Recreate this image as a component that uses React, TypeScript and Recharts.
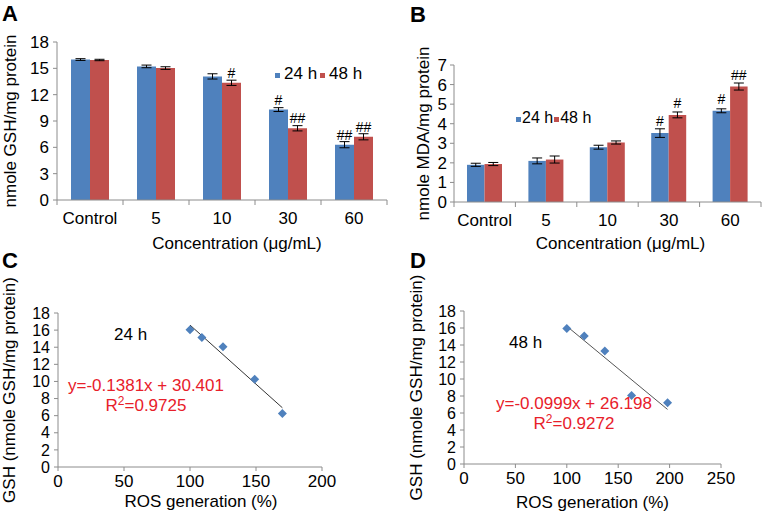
import React from "react";
import {
  Bar,
  BarChart,
  ErrorBar,
  LabelList,
  Legend,
  Scatter,
  ScatterChart,
  XAxis,
  YAxis,
} from "recharts";

const FONT = "Arial, 'Liberation Sans', Helvetica, sans-serif";
const BLUE = "#4F81BD";
const RED = "#C0504D";
const AXIS = "#8c8c8c";
const EQ_RED = "#e8202a";

// A: GSH content
const concentrations = ["Control", "5", "10", "30", "60"];
const gsh24 = [16.0, 15.22, 14.08, 10.3, 6.3];
const gsh48 = [15.95, 15.03, 13.35, 8.17, 7.2];
const gsh24Err = [0.1, 0.15, 0.3, 0.22, 0.35];
const gsh48Err = [0.08, 0.15, 0.3, 0.3, 0.35];
const gsh24Sig = ["", "", "", "#", "##"];
const gsh48Sig = ["", "", "#", "##", "##"];
const gshTicks = [0, 3, 6, 9, 12, 15, 18];

// B: MDA content
const mda24 = [1.9, 2.1, 2.8, 3.52, 4.66];
const mda48 = [1.94, 2.17, 3.04, 4.45, 5.9];
const mda24Err = [0.08, 0.15, 0.1, 0.22, 0.1];
const mda48Err = [0.08, 0.18, 0.08, 0.15, 0.18];
const mda24Sig = ["", "", "", "#", "#"];
const mda48Sig = ["", "", "", "#", "##"];
const mdaTicks = [0, 1, 2, 3, 4, 5, 6, 7];

const seriesNames = ["24 h", "48 h"];

// C / D: GSH vs ROS
const ros24 = [100, 109, 125, 149, 170];
const gshVs24 = [16.05, 15.15, 14.05, 10.25, 6.25];
const trend24X = [100, 170];
const trend24Y = [16.59, 6.92];
const ros48 = [100, 117, 137, 163, 198];
const gshVs48 = [15.95, 15.05, 13.3, 8.05, 7.2];
const trend48X = [100, 198];
const trend48Y = [16.21, 6.42];
const scatterYTicks = [0, 2, 4, 6, 8, 10, 12, 14, 16, 18];
const rosTicksC = [0, 50, 100, 150, 200];
const rosTicksD = [0, 50, 100, 150, 200, 250];

const gshRows = concentrations.map((name, i) => ({
  name,
  v24: gsh24[i],
  v48: gsh48[i],
  e24: gsh24Err[i],
  e48: gsh48Err[i],
  s24: gsh24Sig[i],
  s48: gsh48Sig[i],
}));

const mdaRows = concentrations.map((name, i) => ({
  name,
  v24: mda24[i],
  v48: mda48[i],
  e24: mda24Err[i],
  e48: mda48Err[i],
  s24: mda24Sig[i],
  s48: mda48Sig[i],
}));

const pts24 = ros24.map((x, i) => ({ x, y: gshVs24[i] }));
const pts48 = ros48.map((x, i) => ({ x, y: gshVs48[i] }));
const line24 = trend24X.map((x, i) => ({ x, y: trend24Y[i] }));
const line48 = trend48X.map((x, i) => ({ x, y: trend48Y[i] }));

const tickText = { fontSize: 17, fill: "#000", fontFamily: FONT };
const smallTick = { fontSize: 16, fill: "#000", fontFamily: FONT };

// category ticks with marks between categories (Excel style)
function makeCatTick(step: number, gap: number) {
  return function CatTick(props: any) {
    const { x, y, payload, index } = props;
    const axisY = y - gap;
    const last = index === concentrations.length - 1;
    return (
      <g>
        <line x1={x - step / 2} x2={x - step / 2} y1={axisY} y2={axisY + 5} stroke={AXIS} />
        {last && (
          <line x1={x + step / 2} x2={x + step / 2} y1={axisY} y2={axisY + 5} stroke={AXIS} />
        )}
        <text x={x} y={y} dy="0.71em" textAnchor="middle" {...tickText}>
          {payload.value}
        </text>
      </g>
    );
  };
}

function Diamond(props: any) {
  const { cx, cy } = props;
  const r = 4.5;
  return (
    <path
      d={`M${cx},${cy - r}L${cx + r},${cy}L${cx},${cy + r}L${cx - r},${cy}Z`}
      fill={BLUE}
    />
  );
}

function NoShape() {
  return <g />;
}

function SeriesLegend({ size, gap, between, drop }: { size: number; gap: number; between: number; drop: number }) {
  const colors = [BLUE, RED];
  return (
    <div style={{ display: "flex", fontFamily: FONT, fontSize: size, lineHeight: `${size}px`, color: "#000" }}>
      {seriesNames.map((n, i) => (
        <div key={n} style={{ display: "flex", alignItems: "flex-start", marginRight: between }}>
          <div style={{ width: 5, height: 5, background: colors[i], marginTop: drop, marginRight: gap }} />
          <span>{n}</span>
        </div>
      ))}
    </div>
  );
}

const letter = (t: string, left: number, top: number) => (
  <div
    style={{
      position: "absolute",
      left,
      top,
      fontFamily: FONT,
      fontWeight: "bold",
      fontSize: 22,
      lineHeight: "22px",
      color: "#000",
    }}
  >
    {t}
  </div>
);

const note = (content: React.ReactNode, left: number, top: number, color: string, width = 0) => (
  <div
    style={{
      position: "absolute",
      left,
      top,
      width: width || undefined,
      textAlign: width ? "center" : "left",
      fontFamily: FONT,
      fontSize: 17,
      lineHeight: "20px",
      color,
      whiteSpace: "nowrap",
    }}
  >
    {content}
  </div>
);

const sup = (t: string) => (
  <span style={{ fontSize: 12, position: "relative", top: -6 }}>{t}</span>
);

export default function App() {
  const aW = 390;
  const aLeft = 57;
  const aRight = 3;
  const bW = 381;
  const bLeft = 73;
  const bRight = 1;
  return (
    <div
      style={{
        position: "absolute",
        left: 0,
        top: 0,
        width: 762,
        height: 518,
        background: "#fff",
        overflow: "hidden",
        fontFamily: FONT,
      }}
    >
      {/* A */}
      <div style={{ position: "absolute", left: 0, top: 0 }}>
        <BarChart
          width={aW}
          height={260}
          data={gshRows}
          margin={{ top: 42, right: aRight, bottom: 0, left: 0 }}
          barGap={0}
        >
          <XAxis
            dataKey="name"
            interval={0}
            height={60}
            tickSize={5}
            tickMargin={7}
            tickLine={false}
            axisLine={{ stroke: AXIS }}
            tick={makeCatTick((aW - aLeft - aRight) / concentrations.length, 12)}
            label={{
              value: "Concentration (μg/mL)",
              position: "insideBottom",
              offset: 11,
              dx: 15,
              style: tickText,
            }}
          />
          <YAxis
            width={aLeft}
            domain={[0, 18]}
            ticks={gshTicks}
            interval={0}
            tickSize={4}
            tickMargin={4}
            axisLine={{ stroke: AXIS }}
            tickLine={{ stroke: AXIS }}
            tick={tickText}
            label={{
              value: "nmole GSH/mg protein",
              angle: -90,
              position: "insideLeft",
              offset: 10,
              style: { ...tickText, textAnchor: "middle" },
            }}
          />
          <Legend
            layout="horizontal"
            verticalAlign="middle"
            align="center"
            wrapperStyle={{ left: 275, top: 65, width: "auto" }}
            content={() => <SeriesLegend size={17} gap={4} between={3} drop={8} />}
          />
          <Bar dataKey="v24" name="24 h" fill={BLUE} barSize={19} isAnimationActive={false}>
            <ErrorBar dataKey="e24" width={5} stroke="#000" strokeWidth={1} />
            <LabelList dataKey="s24" position="top" offset={5} fontSize={14} fill="#000" fontFamily={FONT} />
          </Bar>
          <Bar dataKey="v48" name="48 h" fill={RED} barSize={19} isAnimationActive={false}>
            <ErrorBar dataKey="e48" width={5} stroke="#000" strokeWidth={1} />
            <LabelList dataKey="s48" position="top" offset={5} fontSize={14} fill="#000" fontFamily={FONT} />
          </Bar>
        </BarChart>
      </div>

      {/* B */}
      <div style={{ position: "absolute", left: 381, top: 0 }}>
        <BarChart
          width={bW}
          height={260}
          data={mdaRows}
          margin={{ top: 65, right: bRight, bottom: 0, left: 0 }}
          barGap={0}
        >
          <XAxis
            dataKey="name"
            interval={0}
            height={58}
            tickSize={5}
            tickMargin={7}
            tickLine={false}
            axisLine={{ stroke: AXIS }}
            tick={makeCatTick((bW - bLeft - bRight) / concentrations.length, 12)}
            label={{
              value: "Concentration (μg/mL)",
              position: "insideBottom",
              offset: 11,
              dx: 13,
              style: tickText,
            }}
          />
          <YAxis
            width={bLeft}
            domain={[0, 7]}
            ticks={mdaTicks}
            interval={0}
            tickSize={4}
            tickMargin={3}
            axisLine={{ stroke: AXIS }}
            tickLine={{ stroke: AXIS }}
            tick={tickText}
            label={{
              value: "nmole MDA/mg protein",
              angle: -90,
              position: "insideLeft",
              offset: 42,
              style: { ...tickText, textAnchor: "middle" },
            }}
          />
          <Legend
            layout="horizontal"
            verticalAlign="middle"
            align="center"
            wrapperStyle={{ left: 135, top: 110, width: "auto" }}
            content={() => <SeriesLegend size={16} gap={1} between={1} drop={7} />}
          />
          <Bar dataKey="v24" name="24 h" fill={BLUE} barSize={17.5} isAnimationActive={false}>
            <ErrorBar dataKey="e24" width={5} stroke="#000" strokeWidth={1} />
            <LabelList dataKey="s24" position="top" offset={7} fontSize={14} fill="#000" fontFamily={FONT} />
          </Bar>
          <Bar dataKey="v48" name="48 h" fill={RED} barSize={17.5} isAnimationActive={false}>
            <ErrorBar dataKey="e48" width={5} stroke="#000" strokeWidth={1} />
            <LabelList dataKey="s48" position="top" offset={7} fontSize={14} fill="#000" fontFamily={FONT} />
          </Bar>
        </BarChart>
      </div>

      {/* C */}
      <div style={{ position: "absolute", left: 0, top: 260 }}>
        <ScatterChart width={381} height={258} margin={{ top: 53, right: 59, bottom: 0, left: 0 }}>
          <XAxis
            type="number"
            dataKey="x"
            domain={[0, 200]}
            ticks={rosTicksC}
            interval={0}
            height={51}
            tickSize={4}
            tickMargin={4}
            axisLine={{ stroke: AXIS }}
            tickLine={{ stroke: AXIS }}
            tick={tickText}
            label={{
              value: "ROS generation (%)",
              position: "insideBottom",
              offset: 11,
              dx: 11,
              style: tickText,
            }}
          />
          <YAxis
            type="number"
            dataKey="y"
            width={58}
            domain={[0, 18]}
            ticks={scatterYTicks}
            interval={0}
            tickSize={4}
            tickMargin={4}
            axisLine={{ stroke: AXIS }}
            tickLine={{ stroke: AXIS }}
            tick={smallTick}
            label={{
              value: "GSH (nmole GSH/mg protein)",
              angle: -90,
              position: "insideLeft",
              offset: 9,
              style: { ...tickText, textAnchor: "middle" },
            }}
          />
          <Scatter
            data={line24}
            line={{ stroke: "#333", strokeWidth: 1 }}
            shape={NoShape}
            isAnimationActive={false}
          />
          <Scatter data={pts24} shape={Diamond} isAnimationActive={false} />
        </ScatterChart>
      </div>

      {/* D */}
      <div style={{ position: "absolute", left: 381, top: 260 }}>
        <ScatterChart width={381} height={258} margin={{ top: 51, right: 41, bottom: 0, left: 0 }}>
          <XAxis
            type="number"
            dataKey="x"
            domain={[0, 250]}
            ticks={rosTicksD}
            interval={0}
            height={54}
            tickSize={4}
            tickMargin={4}
            axisLine={{ stroke: AXIS }}
            tickLine={{ stroke: AXIS }}
            tick={tickText}
            label={{
              value: "ROS generation (%)",
              position: "insideBottom",
              offset: 10,
              style: tickText,
            }}
          />
          <YAxis
            type="number"
            dataKey="y"
            width={83}
            domain={[0, 18]}
            ticks={scatterYTicks}
            interval={0}
            tickSize={4}
            tickMargin={4}
            axisLine={{ stroke: AXIS }}
            tickLine={{ stroke: AXIS }}
            tick={smallTick}
            label={{
              value: "GSH (nmole GSH/mg protein)",
              angle: -90,
              position: "insideLeft",
              offset: 35,
              style: { ...tickText, textAnchor: "middle" },
            }}
          />
          <Scatter
            data={line48}
            line={{ stroke: "#555", strokeWidth: 1 }}
            shape={NoShape}
            isAnimationActive={false}
          />
          <Scatter data={pts48} shape={Diamond} isAnimationActive={false} />
        </ScatterChart>
      </div>

      {letter("A", 2, 3)}
      {letter("B", 410, 4)}
      {letter("C", 2, 250)}
      {letter("D", 410, 250)}

      {note("24 h", 114, 325, "#000")}
      {note(
        <>
          y=-0.1381x + 30.401
          <br />
          R{sup("2")}=0.9725
        </>,
        46,
        376,
        EQ_RED,
        200
      )}
      {note("48 h", 509, 333, "#000")}
      {note(
        <>
          y=-0.0999x + 26.198
          <br />
          R{sup("2")}=0.9272
        </>,
        474,
        394,
        EQ_RED,
        200
      )}
    </div>
  );
}
